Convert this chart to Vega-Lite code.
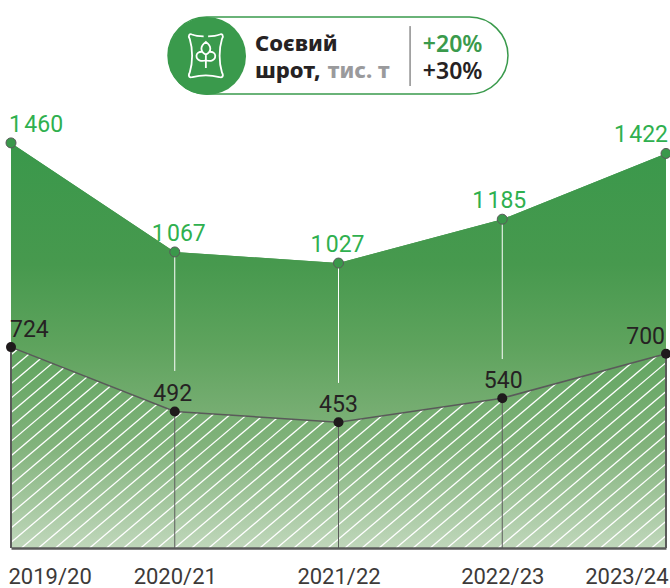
{"$schema":"https://vega.github.io/schema/vega-lite/v6.json","width":670,"height":548,"autosize":"none","padding":{"left":0,"top":0,"right":0,"bottom":40},"background":"white","config":{"view":{"stroke":null},"axisY":{"disable":true}},
"datasets":{
"series":[
{"season":"2019/20","total":1460,"lower":724,"totalLabel":"1\u200a460"},
{"season":"2020/21","total":1067,"lower":492,"totalLabel":"1\u200a067","whiteEnd":638},
{"season":"2021/22","total":1027,"lower":453,"totalLabel":"1\u200a027","whiteEnd":595},
{"season":"2022/23","total":1185,"lower":540,"totalLabel":"1\u200a185","whiteEnd":681},
{"season":"2023/24","total":1422,"lower":700,"totalLabel":"1\u200a422"}],
"hatch":[{"from":-1.6,"to":0},{"from":-1.496,"to":0.104},{"from":-1.392,"to":0.208},{"from":-1.288,"to":0.312},{"from":-1.184,"to":0.416},{"from":-1.08,"to":0.52},{"from":-0.976,"to":0.624},{"from":-0.872,"to":0.728},{"from":-0.768,"to":0.832},{"from":-0.664,"to":0.936},{"from":-0.56,"to":1.04},{"from":-0.456,"to":1.144},{"from":-0.352,"to":1.248},{"from":-0.248,"to":1.352},{"from":-0.144,"to":1.456},{"from":-0.04,"to":1.56},{"from":0.064,"to":1.664},{"from":0.168,"to":1.768},{"from":0.272,"to":1.872},{"from":0.376,"to":1.976},{"from":0.48,"to":2.08},{"from":0.584,"to":2.184},{"from":0.688,"to":2.288},{"from":0.792,"to":2.392},{"from":0.896,"to":2.496},{"from":1.0,"to":2.6},{"from":1.104,"to":2.704},{"from":1.208,"to":2.808},{"from":1.312,"to":2.912},{"from":1.416,"to":3.016},{"from":1.52,"to":3.12},{"from":1.624,"to":3.224},{"from":1.728,"to":3.328},{"from":1.832,"to":3.432},{"from":1.936,"to":3.536},{"from":2.04,"to":3.64},{"from":2.144,"to":3.744},{"from":2.248,"to":3.848},{"from":2.352,"to":3.952},{"from":2.456,"to":4.056},{"from":2.56,"to":4.16},{"from":2.664,"to":4.264},{"from":2.768,"to":4.368},{"from":2.872,"to":4.472},{"from":2.976,"to":4.576},{"from":3.08,"to":4.68},{"from":3.184,"to":4.784},{"from":3.288,"to":4.888},{"from":3.392,"to":4.992},{"from":3.496,"to":5.096},{"from":3.6,"to":5.2},{"from":3.704,"to":5.304},{"from":3.808,"to":5.408},{"from":3.912,"to":5.512},{"from":4.016,"to":5.616}],
"badge":[{"left":0.959,"right":3.035,"top":1913.5,"bottom":1636,"cx":1.197,"cy":1773,"ix":1.19,"iy":1774,"divx":2.437,"divTop":1881,"divBottom":1665}],
"badgeTitle":[{"text":"Соєвий","px":1.49,"py":1791,"tone":"title"},{"text":"шрот,","px":1.49,"py":1694,"tone":"title"},{"text":"тис. т","px":1.935,"py":1694,"tone":"unit"}],
"badgePct":[{"text":"+20%","px":2.515,"py":1787,"tone":"up"},{"text":"+30%","px":2.515,"py":1690,"tone":"title"}]
},
"encoding":{"x":{"field":"season","type":"ordinal","sort":null,"scale":{"type":"point","domain":["2019/20","2020/21","2021/22","2022/23","2023/24"],"range":[11,666],"padding":0},"axis":null}},
"resolve":{"scale":{"x":"independent"},"axis":{"x":"independent"}},
"layer":[
{"data":{"name":"series"},"mark":{"type":"area","color":{"gradient":"linear","x1":0,"y1":0,"x2":0,"y2":1,"stops":[{"offset":0,"color":"#3a984b"},{"offset":0.3,"color":"#47994e"},{"offset":0.5,"color":"#5ea35d"},{"offset":0.75,"color":"#82b37c"},{"offset":1,"color":"#c0d7bb"}]}},
"encoding":{"x":{"field":"season","type":"ordinal","title":null,"sort":null,"scale":{"type":"point","domain":["2019/20","2020/21","2021/22","2022/23","2023/24"],"range":[11,666],"padding":0},"axis":{"zindex":1,"grid":false,"ticks":false,"domain":true,"domainColor":"#5a5a5a","domainWidth":2.5,"labelAngle":0,"labelFont":"Roboto","labelFontSize":22,"labelColor":"#3d3a39","labelBaseline":"alphabetic","labelPadding":35,"labelOverlap":false,"labelBound":false,"labelFlush":false,"labelAlign":{"condition":[{"test":"datum.value=='2019/20'","value":"left"},{"test":"datum.value=='2023/24'","value":"right"}],"value":"center"},"labelOffset":{"condition":[{"test":"datum.value=='2019/20'","value":-3},{"test":"datum.value=='2023/24'","value":2}],"value":0}}},
"y":{"field":"total","type":"quantitative","scale":{"domain":[0,1975]}},"y2":{"datum":0}}},
{"data":{"name":"hatch"},"mark":{"type":"rule","color":"white","strokeWidth":1.3},
"encoding":{"x":{"field":"from","type":"quantitative","scale":{"domain":[0,4],"range":[11,666]},"axis":null},"x2":{"field":"to"},"y":{"datum":0,"type":"quantitative","scale":{"domain":[0,1975]}},"y2":{"datum":800}}},
{"data":{"name":"series"},"mark":{"type":"area","color":{"gradient":"linear","x1":0,"y1":0,"x2":0,"y2":1,"stops":[{"offset":0,"color":"#3a984b"},{"offset":0.436,"color":"#47994e"},{"offset":0.725,"color":"#5ea35d"},{"offset":1,"color":"#7aaf75"}]}},
"encoding":{"y":{"field":"total","type":"quantitative","scale":{"domain":[0,1975]}},"y2":{"field":"lower"}}},
{"data":{"name":"series"},"mark":{"type":"line","color":"#5a5a5a","strokeWidth":1.5},
"encoding":{"y":{"field":"lower","type":"quantitative","scale":{"domain":[0,1975]}}}},
{"data":{"name":"series"},"transform":[{"filter":"isValid(datum.whiteEnd)"}],"mark":{"type":"rule","color":"white","strokeWidth":1},
"encoding":{"y":{"field":"total","type":"quantitative","scale":{"domain":[0,1975]}},"y2":{"field":"whiteEnd"}}},
{"data":{"name":"series"},"transform":[{"filter":"isValid(datum.whiteEnd)"}],"mark":{"type":"rule","color":"#5d5d5d","strokeWidth":1},
"encoding":{"y":{"field":"lower","type":"quantitative","scale":{"domain":[0,1975]}},"y2":{"datum":0}}},
{"data":{"name":"series"},"transform":[{"filter":"!isValid(datum.whiteEnd)"}],"mark":{"type":"rule","color":"#5a5a5a","strokeWidth":2},
"encoding":{"y":{"field":"lower","type":"quantitative","scale":{"domain":[0,1975]}},"y2":{"datum":0}}},
{"data":{"name":"series"},"mark":{"type":"point","filled":true,"fill":"#3a984b","stroke":"#5a5a5a","strokeWidth":1,"size":100,"opacity":1},
"encoding":{"y":{"field":"total","type":"quantitative","scale":{"domain":[0,1975]}}}},
{"data":{"name":"series"},"mark":{"type":"point","filled":true,"color":"#1f1a1c","size":100,"opacity":1},
"encoding":{"y":{"field":"lower","type":"quantitative","scale":{"domain":[0,1975]}}}},
{"data":{"name":"series"},"mark":{"type":"text","font":"Roboto","fontSize":23,"color":"#2fb04f","baseline":"alphabetic","dy":-11,
"align":{"expr":"datum.season=='2019/20'?'left':datum.season=='2023/24'?'right':'center'"},
"dx":{"expr":"datum.season=='2019/20'?-2:datum.season=='2020/21'?4:datum.season=='2021/22'?-1:datum.season=='2022/23'?-3:2"}},
"encoding":{"y":{"field":"total","type":"quantitative","scale":{"domain":[0,1975]}},"text":{"field":"totalLabel"}}},
{"data":{"name":"series"},"mark":{"type":"text","font":"Roboto","fontSize":23,"color":"#262223","baseline":"alphabetic","dy":-10,
"align":{"expr":"datum.season=='2019/20'?'left':datum.season=='2023/24'?'right':'center'"},
"dx":{"expr":"datum.season=='2019/20'?-1:datum.season=='2020/21'?-2:datum.season=='2021/22'?0:datum.season=='2022/23'?1:-1"}},
"encoding":{"y":{"field":"lower","type":"quantitative","scale":{"domain":[0,1975]}},"text":{"field":"lower","type":"quantitative"}}},
{"data":{"name":"badge"},"mark":{"type":"rect","fill":"white","stroke":"#3a9a4c","strokeWidth":1.5,"cornerRadius":38.5},
"encoding":{"x":{"field":"left","type":"quantitative","scale":{"domain":[0,4],"range":[11,666]},"axis":null},"x2":{"field":"right"},"y":{"field":"top","type":"quantitative","scale":{"domain":[0,1975]}},"y2":{"field":"bottom"}}},
{"data":{"name":"badge"},"mark":{"type":"point","filled":true,"color":"#3a9a4c","size":6084,"opacity":1},
"encoding":{"x":{"field":"cx","type":"quantitative","scale":{"domain":[0,4],"range":[11,666]},"axis":null},"y":{"field":"cy","type":"quantitative","scale":{"domain":[0,1975]}}}},
{"data":{"name":"badge"},"mark":{"type":"point","filled":false,"stroke":"white","strokeWidth":1.8,"size":2000,"opacity":1,"shape":"M-0.62,-0.95 C-0.72,-1 -0.82,-0.9 -0.72,-0.75 C-0.58,-0.3 -0.58,0.3 -0.72,0.75 C-0.82,0.92 -0.72,1 -0.6,0.95 C-0.2,0.85 0.2,0.85 0.6,0.95 C0.72,1 0.82,0.92 0.72,0.75 C0.58,0.3 0.58,-0.3 0.72,-0.75 C0.82,-0.9 0.72,-1 0.62,-0.95 C0.45,-0.88 0.3,-0.87 0.1,-0.87 M-0.1,-0.87 C-0.3,-0.87 -0.45,-0.88 -0.62,-0.95 M0,0.55 L0,-0.05 M0,-0.05 C-0.28,-0.2 -0.25,-0.45 0,-0.62 C0.25,-0.45 0.28,-0.2 0,-0.05 M0,0.2 C-0.15,0.25 -0.42,0.25 -0.42,0 C-0.42,-0.12 -0.3,-0.18 -0.18,-0.18 M0,0.2 C0.15,0.25 0.42,0.25 0.42,0 C0.42,-0.12 0.3,-0.18 0.18,-0.18"},
"encoding":{"x":{"field":"ix","type":"quantitative","scale":{"domain":[0,4],"range":[11,666]},"axis":null},"y":{"field":"iy","type":"quantitative","scale":{"domain":[0,1975]}}}},
{"data":{"name":"badge"},"mark":{"type":"rule","color":"#555555","strokeWidth":1},
"encoding":{"x":{"field":"divx","type":"quantitative","scale":{"domain":[0,4],"range":[11,666]},"axis":null},"y":{"field":"divTop","type":"quantitative","scale":{"domain":[0,1975]}},"y2":{"field":"divBottom"}}},
{"data":{"name":"badgeTitle"},"mark":{"type":"text","font":"Noto Sans","fontSize":22,"fontWeight":800,"align":"left","baseline":"alphabetic"},
"encoding":{"x":{"field":"px","type":"quantitative","scale":{"domain":[0,4],"range":[11,666]},"axis":null},"y":{"field":"py","type":"quantitative","scale":{"domain":[0,1975]}},"text":{"field":"text"},"color":{"field":"tone","type":"nominal","legend":null,"scale":{"domain":["title","unit","up"],"range":["#262223","#9a9a9c","#3a9a4c"]}}}},
{"data":{"name":"badgePct"},"mark":{"type":"text","font":"Noto Sans","fontSize":23,"fontWeight":600,"align":"left","baseline":"alphabetic"},
"encoding":{"x":{"field":"px","type":"quantitative","scale":{"domain":[0,4],"range":[11,666]},"axis":null},"y":{"field":"py","type":"quantitative","scale":{"domain":[0,1975]}},"text":{"field":"text"},"color":{"field":"tone","type":"nominal","legend":null,"scale":{"domain":["title","unit","up"],"range":["#262223","#9a9a9c","#3a9a4c"]}}}}
]}
